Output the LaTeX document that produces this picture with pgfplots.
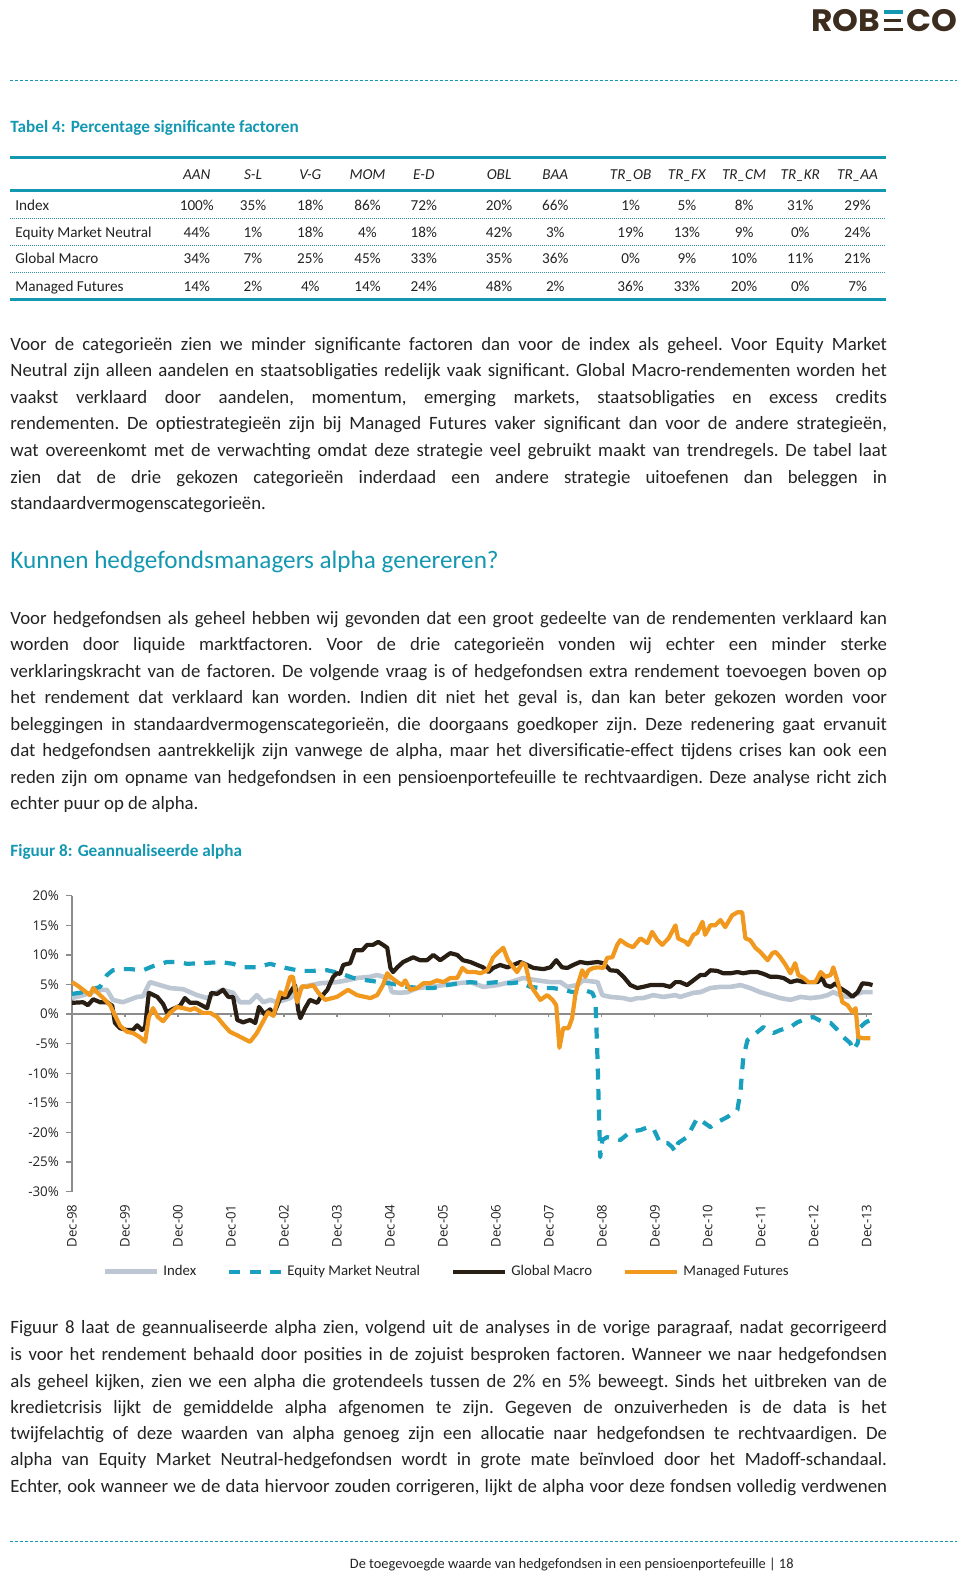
\documentclass[border=0pt]{standalone}
\usepackage{pgfplots}
\pgfplotsset{compat=1.18}
\usepackage{fontspec}
\setmainfont{Carlito}
\newfontfamily\tickfont{Open Sans}
\newfontfamily\logofont{Poppins}
\definecolor{tealA}{RGB}{20,152,178}
\definecolor{emn}{RGB}{25,160,190}
\definecolor{idx}{RGB}{188,199,211}
\definecolor{gm}{RGB}{40,30,20}
\definecolor{mf}{RGB}{241,152,30}
\definecolor{txt}{RGB}{35,35,35}
\definecolor{axisgray}{RGB}{140,140,140}
\definecolor{logo}{RGB}{60,45,30}
\newcommand\body{\fontsize{9.4}{12}\selectfont\frenchspacing}
\newcommand\jl[2]{\node[anchor=base west,inner sep=0pt,text=txt] at (10,#1) {\makebox[438.3pt][s]{\body #2}};}
\newcommand\lastline[2]{\node[anchor=base west,inner sep=0pt,text=txt] at (10,#1) {\body #2};}
\begin{document}
\begin{tikzpicture}[x=0.5pt,y=-0.5pt]
\useasboundingbox (0,0) rectangle (960,1575);
% logo
\node[anchor=base west,inner sep=0pt,text=logo] at (811,31) {\scalebox{1.06}[1]{\logofont\bfseries\fontsize{15.5}{17}\selectfont ROB}};
\fill[tealA] (884,10) rectangle (903,13.5);
\fill[logo] (884,18.7) rectangle (901,22.2);
\fill[logo] (884,27.5) rectangle (903,31);
\node[anchor=base east,inner sep=0pt,text=logo] at (958,31) {\scalebox{1.06}[1]{\logofont\bfseries\fontsize{15.5}{17}\selectfont CO}};
% dashed rules
\draw[tealA, line width=0.5pt, dash pattern=on 1.5pt off 1pt] (10,80) -- (957,80);
\draw[tealA, line width=0.5pt, dash pattern=on 1.5pt off 1pt] (10,1541) -- (957,1541);
% table title
\node[anchor=base west,inner sep=0pt,text=tealA] at (10,132) {\bfseries\fontsize{8.6}{10}\selectfont Tabel 4: Percentage significante factoren};
% table rules
\draw[tealA, line width=1.5pt] (10,157) -- (886,157);
\draw[tealA, line width=1.5pt] (10,190) -- (886,190);
\draw[tealA, line width=1.5pt] (10,299) -- (886,299);
\foreach \yy in {218,245,272}{\draw[tealA!70!gray, line width=0.5pt, dash pattern=on 0.5pt off 0.5pt] (10,\yy) -- (886,\yy);}
% table header
\foreach \xx/\hd in {196.8/AAN,253/S-L,310.3/V-G,367.5/MOM,423.8/E-D,499.1/OBL,555.3/BAA,630.6/TR\_OB,686.9/TR\_FX,744.1/TR\_CM,800.3/TR\_KR,857.6/TR\_AA}{
  \node[anchor=base,inner sep=0pt,text=txt] at (\xx,179) {\itshape\fontsize{7.6}{9}\selectfont \hd};}
\foreach \yy/\name/\a/\b/\c/\d/\e/\f/\g/\h/\i/\j/\k/\l in {
  210/Index/100/35/18/86/72/20/66/1/5/8/31/29,
  237.1/Equity Market Neutral/44/1/18/4/18/42/3/19/13/9/0/24,
  263.2/Global Macro/34/7/25/45/33/35/36/0/9/10/11/21,
  291.4/Managed Futures/14/2/4/14/24/48/2/36/33/20/0/7}{
  \node[anchor=base west,inner sep=0pt,text=txt] at (15,\yy) {\fontsize{7.6}{9}\selectfont \name};
  \foreach \xx/\vv in {196.8/\a,253/\b,310.3/\c,367.5/\d,423.8/\e,499.1/\f,555.3/\g,630.6/\h,686.9/\i,744.1/\j,800.3/\k,857.6/\l}{
    \node[anchor=base,inner sep=0pt,text=txt] at (\xx,\yy) {\fontsize{7.6}{9}\selectfont \vv\%};}
}
% paragraph 1
\jl{350.5}{Voor de categorieën zien we minder significante factoren dan voor de index als geheel. Voor Equity Market}
\jl{376.6}{Neutral zijn alleen aandelen en staatsobligaties redelijk vaak significant. Global Macro-rendementen worden het}
\jl{403.8}{vaakst verklaard door aandelen, momentum, emerging markets, staatsobligaties en excess credits}
\jl{429.9}{rendementen. De optiestrategieën zijn bij Managed Futures vaker significant dan voor de andere strategieën,}
\jl{456}{wat overeenkomt met de verwachting omdat deze strategie veel gebruikt maakt van trendregels. De tabel laat}
\jl{483.1}{zien dat de drie gekozen categorieën inderdaad een andere strategie uitoefenen dan beleggen in}
\lastline{509.2}{standaardvermogenscategorieën.}
% heading
\node[anchor=base west,inner sep=0pt,text=tealA] at (10,568) {\fontsize{12.6}{14}\selectfont Kunnen hedgefondsmanagers alpha genereren?};
% paragraph 2
\jl{624.7}{Voor hedgefondsen als geheel hebben wij gevonden dat een groot gedeelte van de rendementen verklaard kan}
\jl{650.9}{worden door liquide marktfactoren. Voor de drie categorieën vonden wij echter een minder sterke}
\jl{677}{verklaringskracht van de factoren. De volgende vraag is of hedgefondsen extra rendement toevoegen boven op}
\jl{703.1}{het rendement dat verklaard kan worden. Indien dit niet het geval is, dan kan beter gekozen worden voor}
\jl{730.2}{beleggingen in standaardvermogenscategorieën, die doorgaans goedkoper zijn. Deze redenering gaat ervanuit}
\jl{756.3}{dat hedgefondsen aantrekkelijk zijn vanwege de alpha, maar het diversificatie-effect tijdens crises kan ook een}
\jl{783.5}{reden zijn om opname van hedgefondsen in een pensioenportefeuille te rechtvaardigen. Deze analyse richt zich}
\lastline{809.6}{echter puur op de alpha.}
% figure title
\node[anchor=base west,inner sep=0pt,text=tealA] at (10,856) {\bfseries\fontsize{8.6}{10}\selectfont Figuur 8: Geannualiseerde alpha};
% chart
\begin{axis}[
  at={(36pt,-595.75pt)}, anchor=south west,
  scale only axis, width=400pt, height=147.875pt,
  xmin=0, xmax=15.1, ymin=-30, ymax=20,
  axis y line*=left, axis x line*=bottom,
  x axis line style={draw=none},
  y axis line style={draw=axisgray, line width=0.6pt, -},
  ytick={-30,-25,...,20},
  yticklabels={-30\%,-25\%,-20\%,-15\%,-10\%,-5\%,0\%,5\%,10\%,15\%,20\%},
  ytick style={draw=axisgray, line width=0.6pt},
  tick align=outside, major tick length=3pt,
  xtick={0,...,15},
  xticklabels={Dec-98,Dec-99,Dec-00,Dec-01,Dec-02,Dec-03,Dec-04,Dec-05,Dec-06,Dec-07,Dec-08,Dec-09,Dec-10,Dec-11,Dec-12,Dec-13},
  xtick style={draw=none},
  xticklabel style={rotate=90, anchor=east, font=\tickfont\fontsize{6.6}{7}\selectfont, text=txt},
  yticklabel style={font=\tickfont\fontsize{6.7}{7}\selectfont, text=txt},
  clip=false,
  legend columns=4,
  legend style={at={(0.038,-0.2712)}, anchor=west, draw=none, fill=none, inner sep=0pt,
    font=\fontsize{7.4}{8}\selectfont, text=txt,
    /tikz/every even column/.append style={column sep=13.5pt}},
  legend image code/.code={\draw[#1] (0pt,0pt) -- (26pt,0pt);},
  every axis plot/.append style={line join=round},
]
\draw[axisgray, line width=0.6pt] (axis cs:0,0) -- (axis cs:15.1,0);
\pgfplotsinvokeforeach{1,...,15}{\draw[axisgray, line width=0.6pt] (axis cs:#1,0) -- (axis cs:#1,-0.55);}
\addplot[idx, line width=2.3pt] coordinates {
(0,2.7)(0.21,3.2)(0.53,4.1)(0.66,4.1)(0.77,2.4)(0.96,2.0)(1.23,2.9)(1.34,3.0)(1.47,5.4)(1.66,4.9)(1.85,4.4)(2.10,4.2)(2.36,3.2)(2.55,2.7)(2.74,3.7)(2.85,4.1)(3.04,3.6)(3.17,2.0)(3.36,2.0)(3.49,3.2)(3.61,2.0)(3.74,2.4)(3.87,2.0)(4.12,2.7)(4.36,4.6)(4.68,5.2)(5.00,5.4)(5.19,5.7)(5.38,6.1)(5.63,6.3)(5.76,6.6)(5.95,6.1)(6.04,3.7)(6.19,3.6)(6.33,3.7)(6.52,4.4)(6.76,4.6)(7.01,4.9)(7.27,5.2)(7.52,5.4)(7.76,4.6)(8.03,4.9)(8.27,5.4)(8.52,6.1)(8.78,5.7)(9.03,5.4)(9.22,5.4)(9.35,4.6)(9.54,4.9)(9.65,5.7)(9.92,5.4)(10.01,3.2)(10.16,2.9)(10.41,2.7)(10.54,2.4)(10.67,2.7)(10.78,2.7)(10.97,3.2)(11.16,2.9)(11.39,3.2)(11.48,2.9)(11.73,3.6)(11.86,3.7)(12.05,4.4)(12.24,4.6)(12.43,4.6)(12.62,4.9)(12.80,4.4)(12.99,3.7)(13.18,3.2)(13.37,2.7)(13.56,2.4)(13.75,2.9)(13.94,2.7)(14.13,2.9)(14.26,3.2)(14.37,3.7)(14.50,3.2)(14.64,2.9)(14.75,3.2)(14.92,3.7)(15.11,3.7)};
\addlegendentry{Index}
\addplot[emn, line width=2.1pt, dash pattern=on 5.5pt off 4.75pt] coordinates {
(0,3.4)(0.21,3.7)(0.53,4.6)(0.66,6.6)(0.77,7.4)(0.91,7.6)(1.10,7.6)(1.34,7.4)(1.53,8.1)(1.79,8.8)(1.98,8.8)(2.17,8.5)(2.47,8.6)(2.80,8.8)(3.04,8.5)(3.23,7.9)(3.49,7.9)(3.74,8.5)(3.98,7.9)(4.31,7.3)(4.55,7.3)(4.82,7.4)(5.06,6.9)(5.31,6.1)(5.57,5.7)(5.82,5.4)(6.06,5.1)(6.33,4.6)(6.57,4.4)(6.82,4.4)(7.08,4.9)(7.33,5.2)(7.52,5.4)(7.76,5.2)(8.03,5.4)(8.27,5.2)(8.46,5.4)(8.65,4.6)(8.84,4.4)(9.08,4.4)(9.27,4.1)(9.46,3.7)(9.65,4.1)(9.82,3.6)(9.88,2.4)(9.92,-7.8)(9.95,-17.9)(9.97,-24.2)(10.01,-21.3)(10.10,-20.8)(10.35,-21.3)(10.54,-19.9)(10.73,-19.6)(10.88,-19.1)(10.97,-19.3)(11.05,-20.8)(11.10,-21.8)(11.24,-21.8)(11.33,-22.5)(11.39,-23.3)(11.44,-21.8)(11.61,-20.8)(11.80,-17.6)(11.92,-18.3)(12.05,-19.1)(12.18,-18.3)(12.37,-17.4)(12.56,-16.2)(12.62,-12.8)(12.67,-7.3)(12.75,-4.4)(12.86,-3.6)(13.05,-2.2)(13.24,-3.2)(13.37,-2.7)(13.56,-2.2)(13.69,-1.4)(13.88,-0.7)(13.99,-0.5)(14.18,-1.4)(14.32,-1.5)(14.45,-2.7)(14.56,-3.9)(14.69,-4.9)(14.75,-6.1)(14.83,-4.9)(14.88,-2.2)(14.98,-1.4)(15.07,-1.0)};
\addlegendentry{Equity Market Neutral}
\addplot[gm, line width=2.1pt] coordinates {
(0,1.9)(0.21,2.0)(0.30,1.5)(0.40,2.5)(0.53,2.0)(0.66,2.0)(0.76,1.4)(0.81,-1.5)(0.91,-2.4)(1.04,-2.7)(1.15,-2.7)(1.23,-1.9)(1.32,-2.7)(1.38,-2.2)(1.45,3.6)(1.61,2.9)(1.72,1.7)(1.79,0.3)(1.89,0.8)(2.04,1.4)(2.13,2.7)(2.23,1.9)(2.36,1.9)(2.55,1.0)(2.63,3.6)(2.74,3.4)(2.85,4.1)(2.95,2.9)(3.04,2.9)(3.12,-1.0)(3.23,-1.4)(3.36,-1.0)(3.46,-1.5)(3.53,1.2)(3.63,0)(3.74,0.8)(3.80,-0.2)(3.93,2.7)(4.06,2.9)(4.15,4.1)(4.21,4.9)(4.27,0.7)(4.31,-0.7)(4.40,1.0)(4.49,2.4)(4.63,1.9)(4.68,2.7)(4.82,4.1)(4.93,6.3)(5.00,6.9)(5.06,6.8)(5.12,8.3)(5.25,8.6)(5.34,10.8)(5.48,10.8)(5.57,11.7)(5.68,11.7)(5.78,12.2)(5.87,11.7)(5.95,11.2)(6.01,7.8)(6.06,7.1)(6.14,7.9)(6.25,8.8)(6.44,9.6)(6.57,9.1)(6.70,9.1)(6.82,10.0)(6.95,9.1)(7.14,10.3)(7.27,10.0)(7.38,9.1)(7.52,8.8)(7.65,8.3)(7.76,7.9)(7.86,7.1)(7.95,7.8)(8.08,8.3)(8.22,7.9)(8.33,8.3)(8.46,8.8)(8.59,8.3)(8.71,7.8)(8.90,7.6)(9.03,7.9)(9.14,9.1)(9.25,7.9)(9.35,7.8)(9.46,8.3)(9.59,8.8)(9.73,8.6)(9.92,8.8)(10.03,8.6)(10.16,7.4)(10.29,7.3)(10.41,6.3)(10.54,4.9)(10.67,4.4)(10.78,4.6)(10.92,4.9)(11.05,4.9)(11.16,4.9)(11.29,4.6)(11.39,5.4)(11.48,5.4)(11.61,4.9)(11.73,5.7)(11.86,6.6)(11.95,6.6)(12.05,7.4)(12.18,7.3)(12.29,6.9)(12.43,6.9)(12.56,7.1)(12.67,6.9)(12.80,7.1)(12.94,7.1)(13.05,6.8)(13.18,6.3)(13.31,6.3)(13.43,6.1)(13.56,5.4)(13.69,5.7)(13.81,5.4)(13.94,5.4)(14.07,5.4)(14.16,6.1)(14.22,4.9)(14.32,4.6)(14.41,5.2)(14.50,4.4)(14.64,3.6)(14.73,2.9)(14.83,3.7)(14.92,5.2)(15.03,5.1)(15.11,4.9)};
\addlegendentry{Global Macro}
\addplot[mf, line width=2.1pt] coordinates {
(0,5.4)(0.09,4.9)(0.21,4.1)(0.34,3.2)(0.40,4.4)(0.47,3.7)(0.59,2.7)(0.72,1.5)(0.81,-0.2)(0.91,-2.0)(1.04,-3.0)(1.15,-3.2)(1.28,-3.9)(1.38,-4.7)(1.45,-0.5)(1.53,1.0)(1.62,-0.5)(1.72,-1.2)(1.85,0.2)(1.98,1.2)(2.10,1.0)(2.23,0.7)(2.32,1.0)(2.46,0.2)(2.61,0.2)(2.74,-0.5)(2.85,-1.7)(2.98,-3.0)(3.12,-3.6)(3.23,-4.1)(3.36,-4.7)(3.49,-3.2)(3.61,-1.2)(3.70,0.3)(3.80,-0.3)(3.93,3.7)(4.02,3.2)(4.12,6.3)(4.17,6.3)(4.25,2.0)(4.34,4.7)(4.44,4.6)(4.55,4.9)(4.65,3.6)(4.78,2.4)(5.00,2.9)(5.21,4.1)(5.38,3.2)(5.63,2.7)(5.76,3.2)(5.87,4.9)(5.95,6.9)(6.01,6.3)(6.14,5.4)(6.23,4.9)(6.29,5.7)(6.38,4.1)(6.52,4.4)(6.63,5.2)(6.76,5.2)(6.89,5.7)(7.01,5.4)(7.14,6.1)(7.27,6.1)(7.37,7.8)(7.46,7.1)(7.61,7.1)(7.71,6.9)(7.84,7.4)(7.95,9.6)(8.05,10.5)(8.14,11.2)(8.23,9.1)(8.33,7.9)(8.40,7.1)(8.50,8.6)(8.56,8.3)(8.65,4.9)(8.74,3.7)(8.84,2.4)(8.97,3.2)(9.07,2.4)(9.14,1.5)(9.20,-5.7)(9.27,-2.4)(9.37,-2.4)(9.44,-0.7)(9.50,3.2)(9.56,5.4)(9.63,7.4)(9.69,6.3)(9.75,7.4)(9.84,7.8)(9.93,7.9)(10.03,7.8)(10.10,9.5)(10.20,9.6)(10.29,11.7)(10.35,12.5)(10.48,11.7)(10.59,11.3)(10.73,12.8)(10.86,12.0)(10.95,13.9)(11.05,12.5)(11.14,11.7)(11.26,12.8)(11.39,15.0)(11.44,12.8)(11.58,12.2)(11.63,11.7)(11.73,13.4)(11.80,13.7)(11.90,15.6)(11.95,13.4)(12.05,15.0)(12.14,15.0)(12.24,15.9)(12.33,14.7)(12.46,16.7)(12.56,17.2)(12.65,17.2)(12.71,12.8)(12.80,12.5)(12.90,11.2)(12.99,10.5)(13.13,9.1)(13.22,10.3)(13.28,10.5)(13.37,9.6)(13.47,8.3)(13.56,6.9)(13.65,8.6)(13.71,6.6)(13.81,6.1)(13.90,5.4)(14.03,5.4)(14.13,7.1)(14.22,6.3)(14.32,6.6)(14.37,7.9)(14.47,4.9)(14.54,2.0)(14.64,1.5)(14.73,0.3)(14.79,1.0)(14.84,-3.9)(14.94,-4.1)(15.07,-4.1)};
\addlegendentry{Managed Futures}
\end{axis}
% paragraph 3
\jl{1333.9}{Figuur 8 laat de geannualiseerde alpha zien, volgend uit de analyses in de vorige paragraaf, nadat gecorrigeerd}
\jl{1360}{is voor het rendement behaald door posities in de zojuist besproken factoren. Wanneer we naar hedgefondsen}
\jl{1387.1}{als geheel kijken, zien we een alpha die grotendeels tussen de 2\% en 5\% beweegt. Sinds het uitbreken van de}
\jl{1413.2}{kredietcrisis lijkt de gemiddelde alpha afgenomen te zijn. Gegeven de onzuiverheden is de data is het}
\jl{1439.4}{twijfelachtig of deze waarden van alpha genoeg zijn een allocatie naar hedgefondsen te rechtvaardigen. De}
\jl{1465.5}{alpha van Equity Market Neutral-hedgefondsen wordt in grote mate beïnvloed door het Madoff-schandaal.}
\jl{1492.6}{Echter, ook wanneer we de data hiervoor zouden corrigeren, lijkt de alpha voor deze fondsen volledig verdwenen}
% footer
\node[anchor=base west,inner sep=0pt,text=txt] at (349.5,1568) {\fontsize{7.2}{8}\selectfont De toegevoegde waarde van hedgefondsen in een pensioenportefeuille | 18};
\end{tikzpicture}
\end{document}
